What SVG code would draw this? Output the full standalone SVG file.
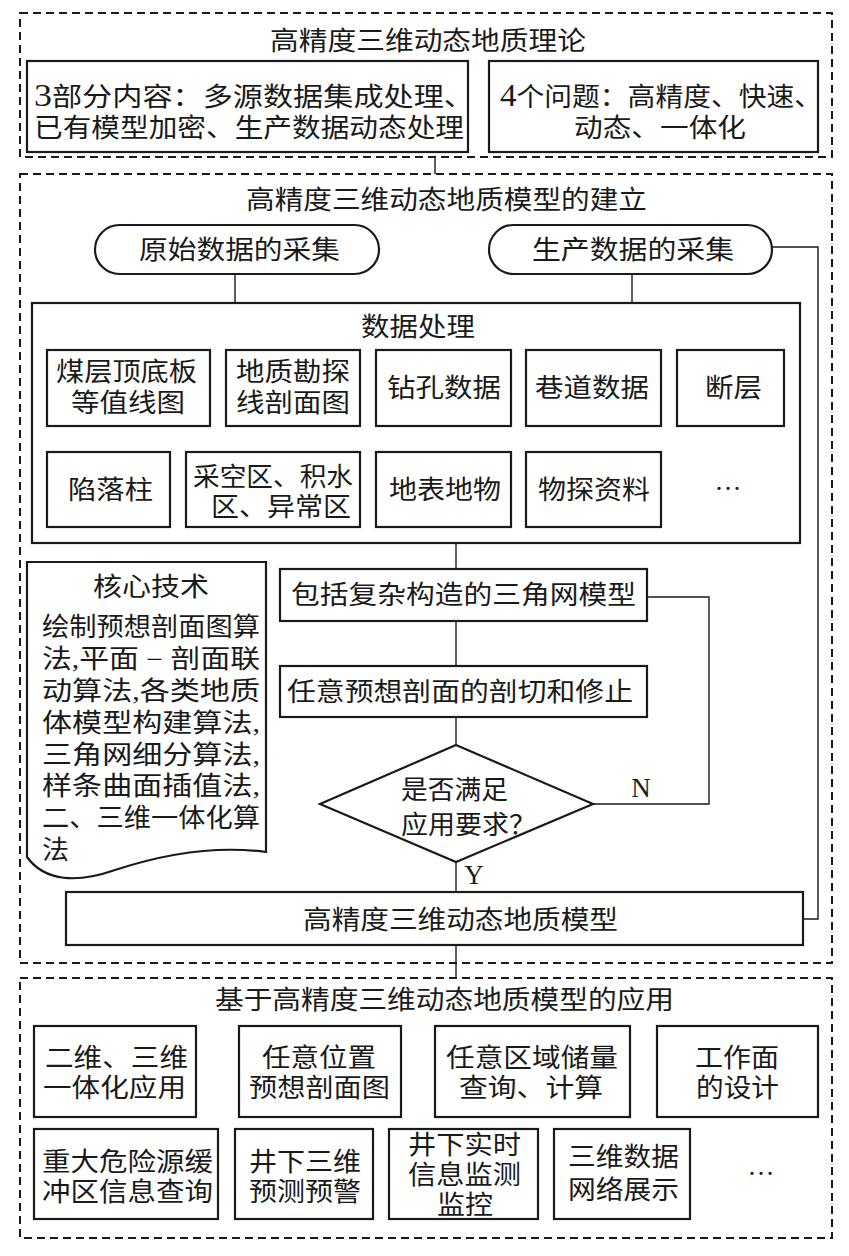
<svg xmlns="http://www.w3.org/2000/svg" width="849" height="1256" viewBox="0 0 849 1256">
<style>
text{font-family:"Liberation Serif","Noto Sans CJK SC",serif;font-size:26px;fill:#1a1a1a;}
.lat{font-family:"Liberation Serif",serif;font-size:27px;}
.dig{font-size:31px;}
.box{fill:#fff;stroke:#1a1a1a;stroke-width:2.2;}
.dash{fill:none;stroke:#1a1a1a;stroke-width:2;stroke-dasharray:8 5;}
.ln{fill:none;stroke:#1a1a1a;stroke-width:1.4;}
</style>
<rect width="849" height="1256" fill="#fff"/>

<g id="connectors">
<line class="ln" x1="435" y1="157" x2="435" y2="174"/>
<line class="ln" x1="235" y1="274" x2="235" y2="303"/>
<line class="ln" x1="632" y1="274" x2="632" y2="303"/>
<polyline class="ln" points="772,247 818,247 818,919 803,919"/>
<line class="ln" x1="456" y1="543" x2="456" y2="569"/>
<line class="ln" x1="456" y1="621" x2="456" y2="666"/>
<line class="ln" x1="456" y1="717" x2="456" y2="745"/>
<polyline class="ln" points="593,804 709,804 709,597 647,597"/>
<line class="ln" x1="456" y1="862" x2="456" y2="892"/>
<line class="ln" x1="456" y1="945" x2="456" y2="978"/>
<text class="lat" x="641" y="797" text-anchor="middle">N</text>
<text class="lat" x="474" y="884" text-anchor="middle">Y</text>
</g>

<g id="theory">
<rect class="dash" x="20" y="13" width="812" height="144"/>
<text x="270" y="50" textLength="316" lengthAdjust="spacingAndGlyphs">高精度三维动态地质理论</text>
</g>
<g id="theory-content">
<rect class="box" x="27" y="61" width="441" height="91"/>
<text x="34" y="106" textLength="440" lengthAdjust="spacingAndGlyphs"><tspan class="dig">3</tspan>部分内容：多源数据集成处理、</text>
<text x="34" y="137" textLength="430" lengthAdjust="spacingAndGlyphs">已有模型加密、生产数据动态处理</text>
</g>
<g id="theory-problems">
<rect class="box" x="489" y="61" width="329" height="91"/>
<text x="500" y="106" textLength="322" lengthAdjust="spacingAndGlyphs"><tspan class="dig">4</tspan>个问题：高精度、快速、</text>
<text x="574" y="137" textLength="172" lengthAdjust="spacingAndGlyphs">动态、一体化</text>
</g>

<g id="build">
<rect class="dash" x="20" y="174" width="812" height="789"/>
<text x="246" y="209" textLength="401" lengthAdjust="spacingAndGlyphs">高精度三维动态地质模型的建立</text>
</g>
<g id="raw-data">
<rect class="box" x="95" y="225" width="284" height="49" rx="24.5"/>
<text x="139" y="259" textLength="201" lengthAdjust="spacingAndGlyphs">原始数据的采集</text>
</g>
<g id="prod-data">
<rect class="box" x="489" y="225" width="283" height="49" rx="24.5"/>
<text x="532" y="259" textLength="202" lengthAdjust="spacingAndGlyphs">生产数据的采集</text>
</g>

<g id="data-processing">
<rect class="box" x="32" y="303" width="768" height="240"/>
<text x="361" y="336" textLength="114" lengthAdjust="spacingAndGlyphs">数据处理</text>
</g>
<g id="dp1">
<rect class="box" x="47" y="350" width="163" height="76"/>
<text x="56" y="381" textLength="141" lengthAdjust="spacingAndGlyphs">煤层顶底板</text>
<text x="71" y="412" textLength="114" lengthAdjust="spacingAndGlyphs">等值线图</text>
</g>
<g id="dp2">
<rect class="box" x="226" y="350" width="134" height="76"/>
<text x="236" y="381" textLength="114" lengthAdjust="spacingAndGlyphs">地质勘探</text>
<text x="236" y="412" textLength="114" lengthAdjust="spacingAndGlyphs">线剖面图</text>
</g>
<g id="dp3">
<rect class="box" x="376" y="350" width="135" height="76"/>
<text x="387" y="397" textLength="114" lengthAdjust="spacingAndGlyphs">钻孔数据</text>
</g>
<g id="dp4">
<rect class="box" x="526" y="350" width="135" height="76"/>
<text x="535" y="397" textLength="114" lengthAdjust="spacingAndGlyphs">巷道数据</text>
</g>
<g id="dp5">
<rect class="box" x="677" y="350" width="107" height="76"/>
<text x="705" y="397" textLength="57" lengthAdjust="spacingAndGlyphs">断层</text>
</g>
<g id="dp6">
<rect class="box" x="47" y="452" width="123" height="75"/>
<text x="68" y="499" textLength="85" lengthAdjust="spacingAndGlyphs">陷落柱</text>
</g>
<g id="dp7">
<rect class="box" x="186" y="452" width="174" height="75"/>
<text x="193" y="486" textLength="160" lengthAdjust="spacingAndGlyphs">采空区、积水</text>
<text x="211" y="516" textLength="140" lengthAdjust="spacingAndGlyphs">区、异常区</text>
</g>
<g id="dp8">
<rect class="box" x="376" y="452" width="135" height="75"/>
<text x="389" y="499" textLength="112" lengthAdjust="spacingAndGlyphs">地表地物</text>
</g>
<g id="dp9">
<rect class="box" x="526" y="452" width="135" height="75"/>
<text x="538" y="499" textLength="112" lengthAdjust="spacingAndGlyphs">物探资料</text>
</g>
<g id="dp-more">
<text class="lat" x="728" y="490" text-anchor="middle">…</text>
</g>

<g id="core-tech">
<path class="box" d="M27,562 H266 V852 C220,846 170,852 115,870 C78,883 45,882 27,857 Z"/>
<text x="93" y="596" textLength="116" lengthAdjust="spacingAndGlyphs">核心技术</text>
<text x="42" y="636" textLength="218" lengthAdjust="spacingAndGlyphs">绘制预想剖面图算</text>
<text x="42" y="668" textLength="218" lengthAdjust="spacingAndGlyphs">法,平面 − 剖面联</text>
<text x="42" y="700" textLength="218" lengthAdjust="spacingAndGlyphs">动算法,各类地质</text>
<text x="42" y="732" textLength="218" lengthAdjust="spacingAndGlyphs">体模型构建算法,</text>
<text x="42" y="764" textLength="218" lengthAdjust="spacingAndGlyphs">三角网细分算法,</text>
<text x="42" y="795" textLength="218" lengthAdjust="spacingAndGlyphs">样条曲面插值法,</text>
<text x="42" y="827" textLength="218" lengthAdjust="spacingAndGlyphs">二、三维一体化算</text>
<text x="42" y="859" textLength="27" lengthAdjust="spacingAndGlyphs">法</text>
</g>

<g id="tin-model">
<rect class="box" x="280" y="569" width="367" height="52"/>
<text x="291" y="604" textLength="345" lengthAdjust="spacingAndGlyphs">包括复杂构造的三角网模型</text>
</g>
<g id="section-cut">
<rect class="box" x="280" y="666" width="367" height="51"/>
<text x="287" y="701" textLength="346" lengthAdjust="spacingAndGlyphs">任意预想剖面的剖切和修止</text>
</g>
<g id="decision">
<polygon class="box" points="456,745 593,804 456,862 320,804"/>
<text x="401" y="799" textLength="107" lengthAdjust="spacingAndGlyphs">是否满足</text>
<text x="401" y="834" textLength="135" lengthAdjust="spacingAndGlyphs">应用要求？</text>
</g>
<g id="model">
<rect class="box" x="66" y="892" width="737" height="53"/>
<text x="303" y="929" textLength="315" lengthAdjust="spacingAndGlyphs">高精度三维动态地质模型</text>
</g>

<g id="applications">
<rect class="dash" x="20" y="978" width="812" height="260"/>
<text x="215" y="1009" textLength="459" lengthAdjust="spacingAndGlyphs">基于高精度三维动态地质模型的应用</text>
</g>
<g id="app1">
<rect class="box" x="34" y="1026" width="162" height="91"/>
<text x="45" y="1067" textLength="143" lengthAdjust="spacingAndGlyphs">二维、三维</text>
<text x="43" y="1097" textLength="143" lengthAdjust="spacingAndGlyphs">一体化应用</text>
</g>
<g id="app2">
<rect class="box" x="239" y="1026" width="162" height="91"/>
<text x="262" y="1067" textLength="114" lengthAdjust="spacingAndGlyphs">任意位置</text>
<text x="249" y="1097" textLength="141" lengthAdjust="spacingAndGlyphs">预想剖面图</text>
</g>
<g id="app3">
<rect class="box" x="435" y="1026" width="195" height="91"/>
<text x="446" y="1067" textLength="172" lengthAdjust="spacingAndGlyphs">任意区域储量</text>
<text x="459" y="1097" textLength="144" lengthAdjust="spacingAndGlyphs">查询、计算</text>
</g>
<g id="app4">
<rect class="box" x="657" y="1026" width="161" height="91"/>
<text x="695" y="1067" textLength="84" lengthAdjust="spacingAndGlyphs">工作面</text>
<text x="696" y="1097" textLength="83" lengthAdjust="spacingAndGlyphs">的设计</text>
</g>
<g id="app5">
<rect class="box" x="34" y="1129" width="184" height="90"/>
<text x="42" y="1171" textLength="171" lengthAdjust="spacingAndGlyphs">重大危险源缓</text>
<text x="42" y="1201" textLength="171" lengthAdjust="spacingAndGlyphs">冲区信息查询</text>
</g>
<g id="app6">
<rect class="box" x="235" y="1129" width="138" height="90"/>
<text x="249" y="1171" textLength="112" lengthAdjust="spacingAndGlyphs">井下三维</text>
<text x="249" y="1201" textLength="112" lengthAdjust="spacingAndGlyphs">预测预警</text>
</g>
<g id="app7">
<rect class="box" x="389" y="1129" width="149" height="90"/>
<text x="408" y="1154" textLength="113" lengthAdjust="spacingAndGlyphs">井下实时</text>
<text x="408" y="1184" textLength="113" lengthAdjust="spacingAndGlyphs">信息监测</text>
<text x="437" y="1214" textLength="56" lengthAdjust="spacingAndGlyphs">监控</text>
</g>
<g id="app8">
<rect class="box" x="554" y="1129" width="136" height="90"/>
<text x="568" y="1166" textLength="111" lengthAdjust="spacingAndGlyphs">三维数据</text>
<text x="568" y="1199" textLength="111" lengthAdjust="spacingAndGlyphs">网络展示</text>
</g>
<g id="app-more">
<text class="lat" x="761" y="1175" text-anchor="middle">…</text>
</g>
</svg>
